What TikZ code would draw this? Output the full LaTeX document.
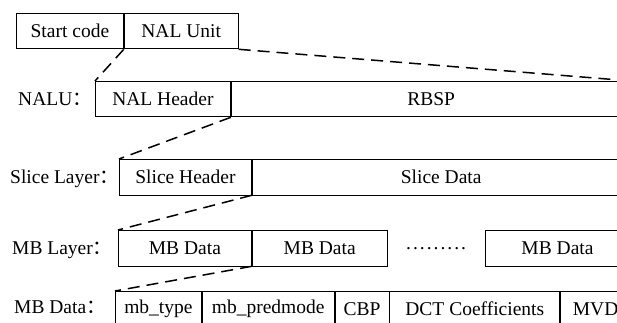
\documentclass[tikz,border=0pt]{standalone}
\usepackage{fontspec}
\setmainfont{Liberation Serif}
\newfontfamily\cjkfont{Noto Sans CJK SC}
\usetikzlibrary{positioning, calc}
\newcommand{\fwcolon}{{\cjkfont ：}}

\begin{document}
\begin{tikzpicture}[x=1pt, y=-1pt, node distance=0pt,
    field/.style={draw, line width=0.8pt, minimum height=35.5pt, inner sep=0pt,
                  anchor=north west, font=\fontsize{19.5}{22}\selectfont},
    rowlabel/.style={anchor=base west, inner sep=0pt, font=\fontsize{19.5}{22}\selectfont},
    zoomline/.style={line width=1.5pt, dash pattern=on 12pt off 7pt}]
  \clip (0,0) rectangle (617,323);

  % NAL stream
  \node[field, minimum width=107pt] (sc) at (16,13) {Start code};
  \node[field, minimum width=114pt, right=of sc] (nu) {NAL Unit};

  % NALU
  \node[field, minimum width=135pt] (nh) at (95,81) {NAL Header};
  \node[field, minimum width=400pt, right=of nh] (rbsp) {RBSP};
  \node[rowlabel] (lnalu) at (18,0 |- nh.base) {NALU\fwcolon};

  % slice layer
  \node[field, minimum width=132pt] (sh) at (119,159) {Slice Header};
  \node[field, minimum width=378pt, right=of sh] (sd) {Slice Data};
  \node[rowlabel] (lslice) at (10,0 |- sh.base) {Slice Layer\fwcolon};

  % MB layer
  \node[field, minimum width=133pt] (mb1) at (118,230) {MB Data};
  \node[field, minimum width=135pt, right=of mb1] (mb2) {MB Data};
  \node[field, minimum width=145pt, right=97pt of mb2] (mb3) {MB Data};
  \node[font=\fontsize{19.5}{22}\selectfont, inner sep=0pt] (dots)
    at ($(mb2.east)!0.5!(mb3.west)$) {.\kern2pt.\kern2pt.\kern2pt.\kern2pt.\kern2pt.\kern2pt.\kern2pt.\kern2pt.};
  \node[rowlabel] (lmb) at (12,0 |- mb1.base) {MB Layer\fwcolon};

  % MB data
  \node[field, minimum width=86pt] (mbt) at (115,291) {mb\_type};
  \node[field, minimum width=132pt, right=of mbt] (mbp) {mb\_predmode};
  \node[field, minimum width=54pt, right=of mbp] (cbp) {CBP};
  \node[field, minimum width=170pt, right=of cbp] (dct) {DCT Coefficients};
  \node[field, minimum width=70pt, right=of dct] (mvd) {MVD};
  \node[rowlabel] (lmbd) at (14,0 |- mbt.base) {MB Data\fwcolon};

  % zoom lines
  \draw[zoomline] (sc.south east) -- (nh.north west);
  \draw[zoomline] (nu.south east) -- (rbsp.north east);
  \draw[zoomline] (nh.south east) -- (sh.north west);
  \draw[zoomline] (sh.south east) -- (mb1.north west);
  \draw[zoomline] (mb1.south east) -- (mbt.north west);
\end{tikzpicture}
\end{document}
